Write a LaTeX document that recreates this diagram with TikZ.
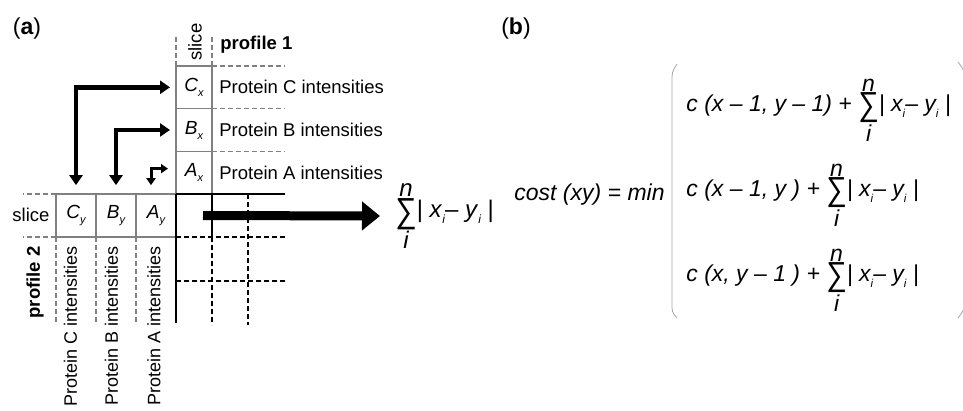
\documentclass[tikz,border=0pt]{standalone}
\usepackage{fontspec}
\setmainfont{Liberation Sans}
\usepackage{xcolor}
\usepackage{graphicx}
\usetikzlibrary{arrows.meta, positioning}

\newcommand\sumni{\ensuremath{\mathop{\hbox{\upshape\raisebox{-0.2em}{\scalebox{1.25}[1.45]{∑}}}}\limits^{\hbox{\itshape n}}_{\hbox{\itshape i}}}}
\newcommand\lowi{\raisebox{-0.25em}{\fontsize{0.5em}{0.5em}\selectfont\itshape i}}
\newcommand\absxy{| \textit{x}\lowi– \textit{y}\lowi\ |}
\newcommand\cellname[2]{\textit{#1}\raisebox{-5pt}{\fontsize{11}{11}\selectfont\itshape #2}}

\begin{document}
\begin{tikzpicture}[x=1pt, y=-1pt, thick]
    \tikzset{
        cell/.style={rectangle, draw=black!50, line width=1.5pt, minimum width=36pt, minimum height=42.67pt, inner sep=0pt, outer sep=0pt, font=\fontsize{19}{19}\selectfont},
        celly/.style={cell, minimum width=40pt},
        lbl/.style={inner sep=0pt, font=\fontsize{18.5}{20}\selectfont},
        rotlbl/.style={lbl, rotate=90, anchor=east, font=\fontsize{18}{20}\selectfont},
        gline/.style={draw=black!50, line width=1.5pt},
        gdash/.style={gline, dash pattern=on 5pt off 3pt},
        bline/.style={draw=black, line width=2pt},
        bdash/.style={bline, dash pattern=on 5pt off 3pt},
        larr/.style={draw, <->, >={Triangle[length=10pt, width=13pt]}, line width=4.5pt},
        sarr/.style={draw, <->, >={Triangle[length=7pt, width=9pt]}, line width=3pt},
        bigarr/.style={draw, ->, >={Triangle[length=18pt, width=28pt]}, line width=9pt},
        formula/.style={inner sep=0pt, anchor=west, font=\fontsize{23}{25}\selectfont\itshape},
        paren/.style={draw=black!35, line width=0.8pt}
    }
    \useasboundingbox (0,0) rectangle (963,410);

    \node[font=\fontsize{23}{25}\selectfont] (labA) at (27,29) {(\textbf{a})};
    \node[font=\fontsize{23}{25}\selectfont] (labB) at (516,29) {(\textbf{b})};

    % profile 1
    \node (Cx) [cell] at (194,87.3) {\cellname{C}{x}};
    \node (Bx) [cell, below=0pt of Cx] {\cellname{B}{x}};
    \node (Ax) [cell, below=0pt of Bx] {\cellname{A}{x}};
    \node (slice1) [lbl, rotate=90] at (195,42) {slice};
    \node (prof1) [lbl, anchor=west, font=\fontsize{18.5}{20}\selectfont\bfseries] at (220,45) {profile 1};
    \node (intC1) [lbl, anchor=west] at (219,87.3) {Protein C intensities};
    \node (intB1) [lbl, anchor=west] at (219,130) {Protein B intensities};
    \node (intA1) [lbl, anchor=west] at (219,172.7) {Protein A intensities};
    \path [gdash] (Cx.north west) -- ++(0,-31) (Cx.north east) -- ++(0,-31);
    \path [gdash] (Cx.north east) -- ++(73,0) (Bx.north east) -- ++(73,0) (Ax.north east) -- ++(73,0);

    % profile 2
    \node (Ay) [celly] at (156,215.5) {\cellname{A}{y}};
    \node (By) [celly, left=0pt of Ay] {\cellname{B}{y}};
    \node (Cy) [celly, left=0pt of By] {\cellname{C}{y}};
    \node (slice2) [lbl] at (31,215) {slice};
    \node (prof2) [rotlbl, font=\fontsize{18.5}{20}\selectfont\bfseries] at (35,246) {profile 2};
    \node (intC2) [rotlbl] at (70.5,246) {Protein C intensities};
    \node (intB2) [rotlbl] at (111.5,246) {Protein B intensities};
    \node (intA2) [rotlbl] at (154,246) {Protein A intensities};
    \path [gdash] (Cy.north west) -- ++(-33,0) (Cy.south west) -- ++(-33,0);
    \path [gdash] (Cy.south west) -- ++(0,88) (By.south west) -- ++(0,88) (Ay.south west) -- ++(0,88);

    % grid
    \path [bline] (Ay.north east) -- ++(109,0);
    \path [bline] (Ay.north east) -- ++(0,129);
    \path [bline] (Ax.south east) -- ++(0,43);
    \path [bdash] (Ay.south east) -- ++(109,0) (176,281) -- (285,281);
    \path [bdash] (212,237) -- (212,325) (248,194) -- (248,325);

    \path [larr, shorten <=6pt, shorten >=9pt] (Cx.west) -| (Cy.north);
    \path [larr, shorten <=6pt, shorten >=9pt] (Bx.west) -| (By.north);
    \path [sarr, shorten <=8pt, shorten >=9pt] ([yshift=4pt]Ax.west) -| ([xshift=-5pt]Ay.north);

    \coordinate (c11) at (203,215.5);
    \node (dist) [lbl, anchor=west, font=\fontsize{24}{26}\selectfont] at (395,216) {\sumni\absxy};
    \path [bigarr] (c11) -- ([xshift=-15pt]dist.west);

    % cost
    \node (cost) [formula, anchor=east] at (665,195) {cost (xy) = min};
    \node (row1) [formula] at (686,110) {c (x – 1, y – 1) + \sumni\absxy};
    \node (row2) [formula] at (686,195) {c (x – 1, y ) + \sumni\absxy};
    \node (row3) [formula] at (686,280) {c (x, y – 1 ) + \sumni\absxy};
    \path [paren] (677,64) .. controls (672,72) .. (672,82) -- (672,303) .. controls (672,312) .. (677,318);
    \path [paren] (958,62) .. controls (964,70) .. (966,82) (966,300) .. controls (964,310) .. (958,318);
\end{tikzpicture}
\end{document}
